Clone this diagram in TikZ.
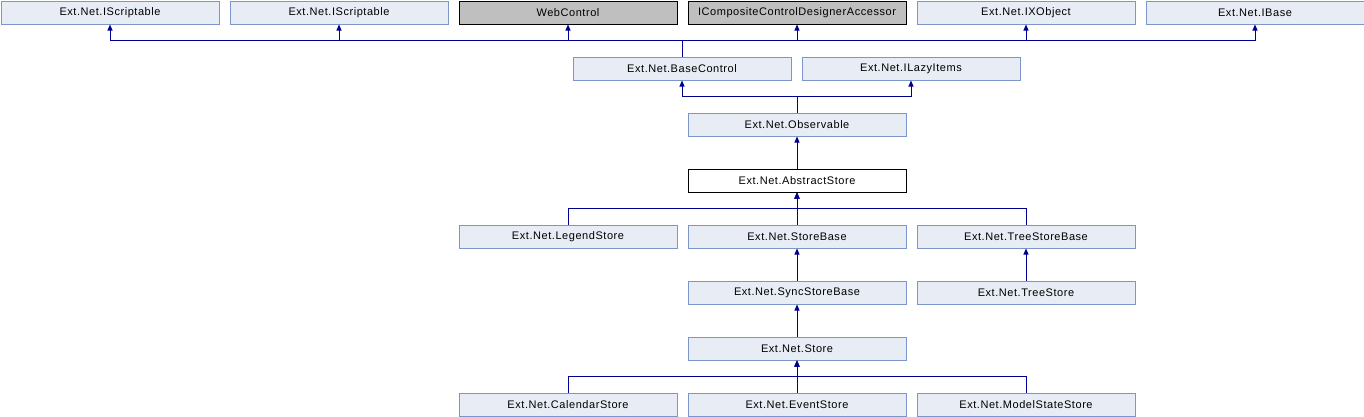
\documentclass[tikz,border=0pt]{standalone}
\usepackage{fontspec}
\setmainfont{Liberation Sans}[LetterSpace=5]
\usetikzlibrary{arrows.meta}
\definecolor{boxfill}{HTML}{E8ECF4}
\definecolor{boxdraw}{HTML}{7C95CA}
\definecolor{graydraw}{HTML}{000000}
\definecolor{grayfill}{HTML}{BFBFBF}
\definecolor{linkcol}{HTML}{000090}
\begin{document}
\begin{tikzpicture}[x=1pt,y=-1pt,
  cls/.style={draw=boxdraw,fill=boxfill,line width=1pt,minimum width=218pt,minimum height=23pt,inner sep=0pt,font=\fontsize{11}{13}\selectfont,anchor=north west},
  ext/.style={cls,draw=graydraw,fill=grayfill},
  cur/.style={cls,draw=black,fill=white},
  inh/.style={draw=linkcol,line width=1pt,-{Triangle[length=6pt,width=5pt]}}]
\useasboundingbox (0,0) rectangle (1364,416);
% row 1
\node[cls] (is1) at (0.5,0.5) {Ext.Net.IScriptable};
\node[cls] (is2) at (229.5,0.5) {Ext.Net.IScriptable};
\node[ext] (web) at (458.5,0.5) {WebControl};
\node[ext] (iccda) at (687.5,0.5) {ICompositeControlDesignerAccessor};
\node[cls] (ixo) at (916.5,0.5) {Ext.Net.IXObject};
\node[cls] (ibase) at (1145.5,0.5) {Ext.Net.IBase};
% row 2
\node[cls] (bc) at (572.5,56.5) {Ext.Net.BaseControl};
\node[cls] (lazy) at (801.5,56.5) {Ext.Net.ILazyItems};
% row 3
\node[cls] (obs) at (687.5,112.5) {Ext.Net.Observable};
% row 4
\node[cur] (abs) at (687.5,168.5) {Ext.Net.AbstractStore};
% row 5
\node[cls] (leg) at (458.5,224.5) {Ext.Net.LegendStore};
\node[cls] (sb) at (687.5,224.5) {Ext.Net.StoreBase};
\node[cls] (tsb) at (916.5,224.5) {Ext.Net.TreeStoreBase};
% row 6
\node[cls] (ssb) at (687.5,280.5) {Ext.Net.SyncStoreBase};
\node[cls] (ts) at (916.5,280.5) {Ext.Net.TreeStore};
% row 7
\node[cls] (st) at (687.5,336.5) {Ext.Net.Store};
% row 8
\node[cls] (cal) at (458.5,392.5) {Ext.Net.CalendarStore};
\node[cls] (ev) at (687.5,392.5) {Ext.Net.EventStore};
\node[cls] (mss) at (916.5,392.5) {Ext.Net.ModelStateStore};
% bus levels
\coordinate (b1) at (0,40.5);
\coordinate (b2) at (0,96.5);
\coordinate (b5) at (0,208.5);
\coordinate (b8) at (0,376.5);
% BaseControl -> row 1
\foreach \p in {is1,is2,web,iccda,ixo,ibase}
  \draw[inh] (bc.north) -- (bc.north |- b1) -| (\p.south);
% Observable -> BaseControl, ILazyItems
\draw[inh] (obs.north) -- (obs.north |- b2) -| (bc.south);
\draw[inh] (obs.north) -- (obs.north |- b2) -| (lazy.south);
% AbstractStore -> Observable
\draw[inh] (abs.north) -- (obs.south);
% row 5 -> AbstractStore
\foreach \c in {leg,sb,tsb}
  \draw[inh] (\c.north) -- (\c.north |- b5) -| (abs.south);
\draw[inh] (ssb.north) -- (sb.south);
\draw[inh] (ts.north) -- (tsb.south);
\draw[inh] (st.north) -- (ssb.south);
\foreach \c in {cal,ev,mss}
  \draw[inh] (\c.north) -- (\c.north |- b8) -| (st.south);
\end{tikzpicture}
\end{document}
